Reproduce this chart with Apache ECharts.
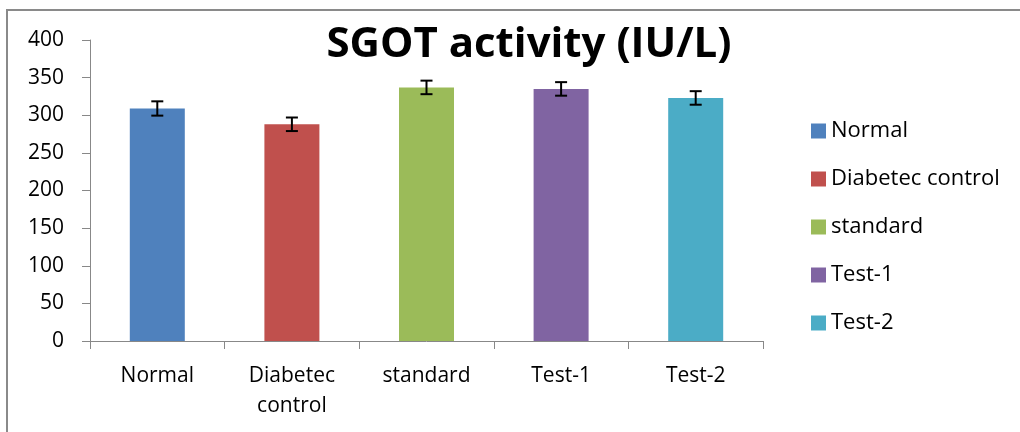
<!DOCTYPE html>
<html>
<head>
<meta charset="utf-8">
<script src="https://cdn.jsdelivr.net/npm/echarts@6/dist/echarts.min.js"></script>
<style>
html,body{margin:0;padding:0;background:#fff;}
#c{width:1020px;height:432px;}
</style>
</head>
<body>
<div id="c"></div>
<script>
const categories = ['Normal', 'Diabetec control', 'standard', 'Test-1', 'Test-2'];
const values = [309, 288, 337, 335, 323];
const errors = [9.5, 9, 9, 9, 9];
const colors = ['#4f81bd', '#c0504d', '#9bbb59', '#8064a2', '#4bacc6'];
const yTicks = [0, 50, 100, 150, 200, 250, 300, 350, 400];
const titleText = 'SGOT activity (IU/L)';

const FONT = '"Open Sans"';
const chart = echarts.init(document.getElementById('c'), null, {renderer: 'canvas'});

const barSeries = categories.map((name, i) => ({
  name: name,
  type: 'bar',
  barWidth: 55,
  barGap: '-100%',
  itemStyle: {color: colors[i]},
  data: values.map((v, j) => (j === i ? v : '-')),
  z: 2
}));

const errSeries = {
  type: 'custom',
  name: 'err',
  z: 5,
  data: values.map((v, i) => [i, v - errors[i], v + errors[i]]),
  renderItem: function (params, api) {
    const x = api.value(0);
    const lo = api.coord([x, api.value(1)]);
    const hi = api.coord([x, api.value(2)]);
    const hw = 6;
    const style = {stroke: '#000', lineWidth: 2};
    return {
      type: 'group',
      children: [
        {type: 'line', shape: {x1: lo[0], y1: lo[1], x2: hi[0], y2: hi[1]}, style: style},
        {type: 'line', shape: {x1: lo[0] - hw, y1: lo[1], x2: lo[0] + hw, y2: lo[1]}, style: style},
        {type: 'line', shape: {x1: hi[0] - hw, y1: hi[1], x2: hi[0] + hw, y2: hi[1]}, style: style}
      ]
    };
  }
};

chart.setOption({
  animation: false,
  backgroundColor: '#fff',
  title: {
    text: titleText,
    left: 524,
    textAlign: 'center',
    top: 19,
    textStyle: {fontFamily: FONT, fontWeight: 'bold', fontSize: 42, color: '#000'}
  },
  legend: {
    orient: 'vertical',
    left: 806,
    top: 115,
    itemWidth: 15,
    itemHeight: 15,
    itemGap: 26,
    icon: 'rect',
    data: categories,
    textStyle: {fontFamily: FONT, fontSize: 22, color: '#000', lineHeight: 22}
  },
  grid: {left: 90, right: 257, top: 40, bottom: 91, containLabel: false},
  xAxis: {
    type: 'category',
    data: categories,
    axisLine: {lineStyle: {color: '#888', width: 1}},
    axisTick: {show: true, length: 8, inside: false, alignWithLabel: false, lineStyle: {color: '#888'}},
    axisLabel: {
      fontFamily: FONT, fontSize: 21, color: '#000', margin: 20, lineHeight: 30,
      interval: 0,
      formatter: v => v.replace(' ', '\n')
    }
  },
  yAxis: {
    type: 'value',
    min: yTicks[0],
    max: yTicks[yTicks.length - 1],
    interval: 50,
    axisLine: {show: true, lineStyle: {color: '#888', width: 1}},
    axisTick: {show: true, length: 8, lineStyle: {color: '#888'}},
    splitLine: {show: false},
    axisLabel: {fontFamily: FONT, fontSize: 21, color: '#000', margin: 26}
  },
  graphic: [{
    type: 'rect',
    shape: {x: 7, y: 10, width: 1100, height: 500},
    style: {fill: 'none', stroke: '#8a8a8a', lineWidth: 2},
    silent: true,
    z: 0
  }],
  series: barSeries.concat([errSeries])
});
</script>
</body>
</html>
